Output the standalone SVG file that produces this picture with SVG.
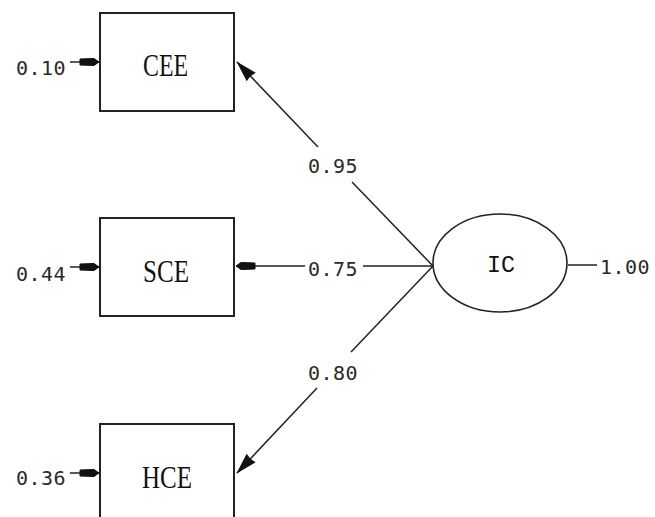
<svg xmlns="http://www.w3.org/2000/svg" width="655" height="517" viewBox="0 0 655 517">
<style>
.box{fill:#fff;stroke:#222;stroke-width:2}
.ell{fill:#fff;stroke:#222;stroke-width:1.6}
.ln{stroke:#222;stroke-width:1.5;fill:none}
.num{font-family:"DejaVu Sans Mono","Liberation Mono",monospace;font-size:20px;fill:#2a2a2a;letter-spacing:0.5px}
.lab{font-family:"Liberation Serif",serif;font-size:32px;fill:#111}
.lat{font-family:"Liberation Mono",monospace;font-size:24px;fill:#111}
.head{fill:#111;stroke:#111;stroke-width:1;stroke-linejoin:miter}
</style>
<defs>
<marker id="bar" markerUnits="userSpaceOnUse" orient="auto" refX="0" refY="0" markerWidth="24" markerHeight="12" overflow="visible">
<path class="head" d="M0,0 L-5,-3.5 L-19,-3 L-19,3 L-5,3.5 Z"/>
</marker>
<marker id="tri" markerUnits="userSpaceOnUse" orient="auto" refX="0" refY="0" markerWidth="24" markerHeight="12" overflow="visible">
<path class="head" d="M-1,0 L-20,-5.5 L-19,0 L-20,5.5 Z"/>
</marker>
</defs>
<g id="connectors">
<line class="ln" x1="70" y1="62" x2="99" y2="62" marker-end="url(#bar)"/>
<line class="ln" x1="70" y1="267" x2="99" y2="267" marker-end="url(#bar)"/>
<line class="ln" x1="70" y1="473" x2="99" y2="473" marker-end="url(#bar)"/>
<line class="ln" x1="352" y1="182" x2="433" y2="266"/>
<line class="ln" x1="318" y1="147" x2="237" y2="62" marker-end="url(#tri)"/>
<line class="ln" x1="363" y1="266" x2="433" y2="266"/>
<line class="ln" x1="305" y1="266" x2="236" y2="266" marker-end="url(#bar)"/>
<line class="ln" x1="433" y1="266" x2="351" y2="352"/>
<line class="ln" x1="317" y1="388" x2="237" y2="473" marker-end="url(#tri)"/>
<line class="ln" x1="568" y1="265" x2="597" y2="265"/>
<text class="num" x="308" y="173">0.95</text>
<text class="num" x="308" y="276">0.75</text>
<text class="num" x="308" y="380">0.80</text>
<text class="num" x="600" y="274">1.00</text>
<text class="num" x="16" y="75">0.10</text>
<text class="num" x="16" y="281">0.44</text>
<text class="num" x="16" y="485">0.36</text>
</g>
<g id="CEE">
<rect class="box" x="100" y="13" width="134" height="98"/>
<text class="lab" x="143" y="76" textLength="45" lengthAdjust="spacingAndGlyphs">CEE</text>
</g>
<g id="SCE">
<rect class="box" x="100" y="218" width="134" height="98"/>
<text class="lab" x="143" y="282" textLength="46" lengthAdjust="spacingAndGlyphs">SCE</text>
</g>
<g id="HCE">
<rect class="box" x="100" y="424" width="134" height="98"/>
<text class="lab" x="142" y="488" textLength="50" lengthAdjust="spacingAndGlyphs">HCE</text>
</g>
<g id="IC">
<ellipse class="ell" cx="500" cy="263" rx="67" ry="49"/>
<text class="lat" x="487" y="272" textLength="28" lengthAdjust="spacingAndGlyphs">IC</text>
</g>
</svg>
